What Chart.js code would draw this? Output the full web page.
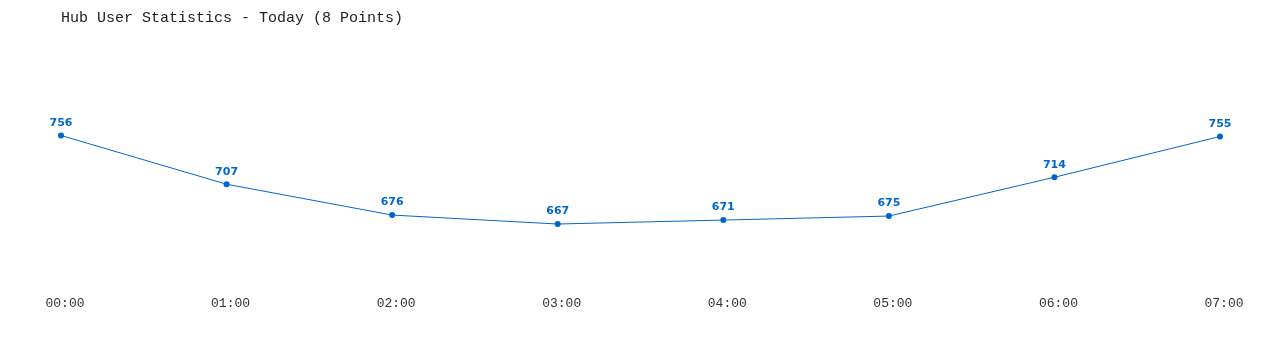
<!DOCTYPE html>
<html>
<head>
<meta charset="utf-8">
<title>Hub User Statistics</title>
<script src="https://cdn.jsdelivr.net/npm/chart.js@4/dist/chart.umd.min.js"></script>
<style>
  html, body { margin: 0; padding: 0; background: #fff; }
  #wrap { width: 1280px; height: 350px; }
</style>
</head>
<body>
<div id="wrap"><canvas id="hubChart" width="1280" height="350"></canvas></div>
<script>
// hourly user counts for today
const hours = ['00:00', '01:00', '02:00', '03:00', '04:00', '05:00', '06:00', '07:00'];
const users = [756, 707, 676, 667, 671, 675, 714, 755];
const lineColor = '#0066cc';

// draw the number above each point (no datalabels plugin available)
const valueLabels = {
    id: 'valueLabels',
    afterDatasetsDraw(chart) {
        const ctx = chart.ctx;
        const meta = chart.getDatasetMeta(0);
        ctx.save();
        ctx.font = 'bold 11px "DejaVu Sans", sans-serif';
        ctx.fillStyle = lineColor;
        ctx.textAlign = 'center';
        ctx.textBaseline = 'bottom';
        meta.data.forEach(function (pt, i) {
            ctx.fillText(String(users[i]), pt.x, pt.y - 7);
        });
        ctx.restore();
    }
};

window.addEventListener('DOMContentLoaded', function () {
    const el = document.getElementById('hubChart');
    new Chart(el.getContext('2d'), {
        type: 'line',
        data: {
            labels: hours,
            datasets: [{
                data: users,
                borderColor: lineColor,
                backgroundColor: lineColor,
                borderWidth: 1,
                pointRadius: 3,
                pointBackgroundColor: lineColor,
                pointBorderWidth: 0,
                tension: 0
            }]
        },
        options: {
            responsive: false,
            animation: false,
            layout: { padding: { top: 9, left: 61, right: 60, bottom: 33 } },
            plugins: {
                legend: { display: false },
                tooltip: { enabled: false },
                title: {
                    display: true,
                    text: 'Hub User Statistics - Today (8 Points)',
                    align: 'start',
                    color: '#222',
                    font: { family: '"Liberation Mono", monospace', size: 15, weight: 'normal', lineHeight: 1.2 },
                    padding: { top: 0, bottom: 24 }
                }
            },
            scales: {
                x: {
                    offset: false,
                    grid: { display: false, drawTicks: false },
                    border: { display: false },
                    ticks: {
                        color: '#333',
                        padding: 6,
                        labelOffset: 4,
                        maxRotation: 0,
                        font: { family: '"Liberation Mono", monospace', size: 13 }
                    }
                },
                y: {
                    display: false,
                    min: 601.3,
                    max: 840.9
                }
            }
        },
        plugins: [valueLabels]
    });
});
</script>
</body>
</html>
